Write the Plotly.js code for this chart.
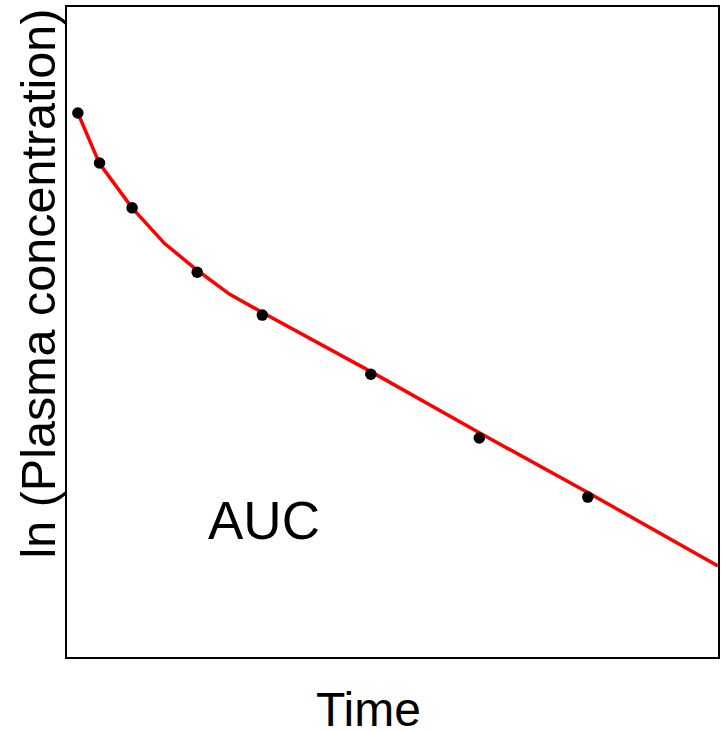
<!DOCTYPE html>
<html>
<head>
<meta charset="utf-8">
<script src="https://cdn.plot.ly/plotly-3.0.1.min.js"></script>
<style>html,body{margin:0;padding:0;background:#fff;}#chart{width:722px;height:731px;}</style>
</head>
<body>
<div id="chart"></div>
<script>
// Observed samples: time vs ln(plasma concentration)
var sampleTime = [0.5, 1.5, 3, 6, 9, 14, 19, 24];
var sampleLnConc = [8.37, 7.6, 6.91, 5.92, 5.26, 4.35, 3.37, 2.46];
// Fitted curve (red)
var fitTime = [0.5, 1.5, 3, 4.5, 6, 7.5, 9, 14, 19, 24, 30];
var fitLnConc = [8.37, 7.59, 6.91, 6.36, 5.95, 5.58, 5.30, 4.39, 3.45, 2.53, 1.40];
var xTitle = "Time";
var yTitle = "ln (Plasma concentration)";
var areaLabel = "AUC";

var traces = [
  {x: fitTime, y: fitLnConc, type: 'scatter', mode: 'lines',
   line: {color: '#ff0000', width: 3.5}, hoverinfo: 'skip'},
  {x: sampleTime, y: sampleLnConc, type: 'scatter', mode: 'markers',
   marker: {color: '#000000', size: 11.5}}
];
var font = "'Liberation Sans', Arial, sans-serif";
var layout = {
  width: 722, height: 731,
  margin: {l: 67, r: 4, t: 7, b: 74, pad: 0},
  paper_bgcolor: '#ffffff', plot_bgcolor: '#ffffff',
  showlegend: false,
  font: {family: font, color: '#000'},
  xaxis: {range: [0, 30], showgrid: false, zeroline: false, showticklabels: false,
          ticks: '', showline: true, mirror: true, linecolor: '#000', linewidth: 2},
  yaxis: {range: [0, 10], showgrid: false, zeroline: false, showticklabels: false,
          ticks: '', showline: true, mirror: true, linecolor: '#000', linewidth: 2},
  annotations: [
    {text: areaLabel, x: 9.1, y: 2.1, xref: 'x', yref: 'y', showarrow: false,
     xanchor: 'center', yanchor: 'middle', font: {family: font, size: 53, color: '#000'}},
    {text: xTitle, x: 0.4639, y: -0.080, xref: 'paper', yref: 'paper', showarrow: false,
     height: 46, valign: 'middle',
     xanchor: 'center', yanchor: 'middle', font: {family: font, size: 48, color: '#000'}},
    {text: yTitle, x: -0.046, y: 0.5746, xref: 'paper', yref: 'paper', showarrow: false,
     textangle: -90, xanchor: 'center', yanchor: 'middle', font: {family: font, size: 48.5, color: '#000'}}
  ]
};
Plotly.newPlot('chart', traces, layout, {displayModeBar: false, staticPlot: true});
</script>
</body>
</html>
